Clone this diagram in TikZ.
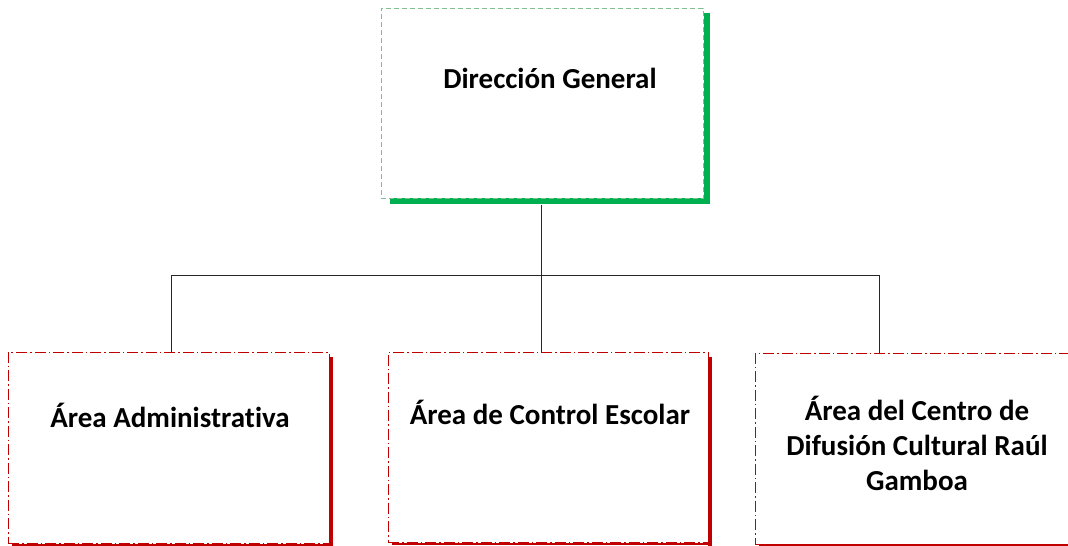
\documentclass[tikz,border=0pt]{standalone}
\usepackage{fontspec}
\setmainfont{Carlito}[Ligatures=NoCommon]
\definecolor{shgreen}{HTML}{00B050}
\definecolor{dashgreen}{HTML}{7FBF8F}
\definecolor{boxred}{HTML}{C00000}
\begin{document}
\begin{tikzpicture}[x=1pt,y=-1pt,
  topbox/.style={draw=dashgreen, line width=1pt, dash pattern=on 5pt off 3pt, rectangle, inner sep=0pt, fill=white},
  subbox/.style={draw=boxred, line width=1pt, dash pattern=on 11pt off 3pt on 1.5pt off 3pt, rectangle, inner sep=0pt, fill=white, minimum width=321pt, minimum height=191pt},
  lbl/.style={font=\fontsize{29}{35}\selectfont\bfseries, align=center, inner sep=0pt},
  conn/.style={draw=black!85, line width=1pt}]
\clip (0,0) rectangle (1068,546);
\fill[white] (0,0) rectangle (1068,546);
% shadows
\draw[shgreen, line width=6pt] (390,201) -- (707,201) -- (707,13);
\draw[boxred, line width=4pt] (331,357) -- (331,546);
\draw[boxred, line width=2pt] (12,545) -- (333,545);
\draw[boxred, line width=4pt] (710,357) -- (710,546);
\draw[boxred, line width=2pt] (392,544) -- (712,544);
\draw[boxred, line width=2pt] (759,545) -- (1068,545);
% boxes
\node[topbox, minimum width=322pt, minimum height=190pt] (dg) at (542,103) {};
\node[subbox] (b1) at (168.5,447.5) {};
\node[subbox, minimum width=320pt, minimum height=190pt] (b2) at (548,447) {};
\node[subbox] (b3) at (915.5,448.5) {};
% labels
\node[lbl] (tdg) at (550,78) {Dirección General};
\node[lbl] (tb1) at (170,415) {Área Administrativa};
\node[lbl] (tb2) at (550,412) {Área de Control Escolar};
\node[lbl] (tb3) at (917,443) {Área del Centro de\\Difusión Cultural Raúl\\Gamboa};
% connectors
\coordinate (hub) at (541,275);
\coordinate (j1) at (171,275);
\coordinate (j3) at (879,275);
\draw[conn] (hub |- dg.south) ++(0,6) -- (hub);
\draw[conn] (j1) -- (j3);
\draw[conn] (j1) -- (j1 |- b1.north);
\draw[conn] (hub) -- (hub |- b2.north);
\draw[conn] (j3) -- (j3 |- b3.north);
\end{tikzpicture}
\end{document}
